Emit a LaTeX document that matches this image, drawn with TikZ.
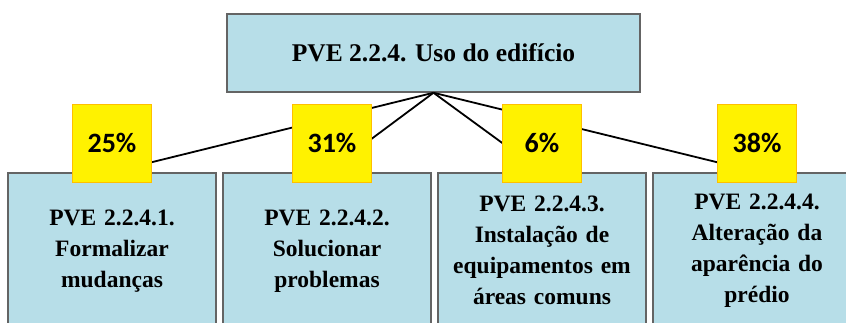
\documentclass[tikz,border=0pt]{standalone}
\usepackage{fontspec}
\setmainfont{Liberation Serif}
\newfontfamily\pctfont{Carlito}
\usetikzlibrary{positioning}
\definecolor{boxfill}{RGB}{183,222,232}
\definecolor{boxline}{RGB}{100,100,100}
\tikzset{
  topbox/.style={draw=boxline,fill=boxfill,line width=1.5pt,minimum width=413pt,
    minimum height=78pt,inner sep=0pt,font=\fontsize{25.5}{30}\selectfont\bfseries},
  subbox/.style={draw=boxline,fill=boxfill,line width=1.5pt,anchor=north,
    text width=200pt,inner xsep=4pt,inner ysep=0pt,minimum height=156pt,
    align=center,font=\fontsize{23.5}{31}\selectfont\bfseries},
  share/.style={draw=orange!50!yellow,fill=yellow,line width=0.5pt,minimum width=79pt,
    minimum height=78pt,inner sep=0pt,font=\pctfont\bfseries\fontsize{28}{30}\selectfont},
  link/.style={line width=1.8pt,black},
}
\begin{document}
\begin{tikzpicture}[x=1pt,y=-1pt]
  \clip (0,0) rectangle (846,322);
  \fill[white] (0,0) rectangle (846,322);
  \node[topbox] (uso) at (433.5,53) {PVE 2.2.4. Uso do edifício};
  \foreach \n/\x/\lab in {1/112/{PVE 2.2.4.1.\\Formalizar\\mudanças},
                          2/327/{PVE 2.2.4.2.\\Solucionar\\problemas},
                          3/542/{PVE 2.2.4.3.\\Instalação de\\equipamentos em\\áreas comuns},
                          4/757/{PVE 2.2.4.4.\\Alteração da\\aparência do\\prédio}}{
    \node[subbox] (sub\n) at (\x,172) {\lab};
  }
  \foreach \n in {1,...,4}
    \draw[link] (uso.south) -- (sub\n.north);
  \foreach \n/\x/\pct in {1/112/25, 2/332/31, 3/542/6, 4/757/38}
    \node[share] (pct\n) at (\x,143) {\pct\%};
\end{tikzpicture}
\end{document}
